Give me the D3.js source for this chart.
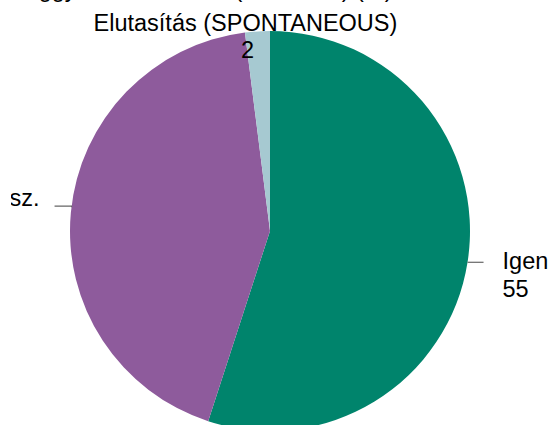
<!DOCTYPE html>
<html>
<head>
<meta charset="utf-8">
<script src="https://cdn.jsdelivr.net/npm/d3@7"></script>
<style>
html,body{margin:0;padding:0;background:#fff;overflow:hidden;}
text{font-family:"Liberation Sans",Arial,sans-serif;}
</style>
</head>
<body>
<svg id="chart" width="552" height="425"></svg>
<script>
const categories = ["Igen", "Nem tudja / nincs válasz.", "Elutasítás (SPONTANEOUS)"];
const values = [55, 43, 2];
const colors = ["#00846c", "#8e5b9c", "#a6c9d1"];
const title = "Meggyőződés szerint (összesen) (%)";

const W = 552, H = 425;
const cx = 270, cy = 231, R = 200;
const fs = 23.5, lh = 27.5;

const svg = d3.select("#chart");
svg.append("defs").append("clipPath").attr("id", "leftclip")
  .append("rect").attr("x", 11).attr("y", 0).attr("width", W).attr("height", H);

// title (mostly above the visible area)
svg.append("text").attr("x", 6).attr("y", -3)
  .attr("font-size", fs).attr("fill", "#000").text(title);

const data = categories.map((c, i) => ({cat: c, value: values[i], color: colors[i]}));
const pie = d3.pie().value(d => d.value).sort(null);
const arcs = pie(data);
const arc = d3.arc().innerRadius(0).outerRadius(R);

const g = svg.append("g").attr("transform", `translate(${cx},${cy})`);
g.selectAll("path").data(arcs).enter().append("path")
  .attr("d", arc).attr("fill", d => d.data.color);

// labels
const lab = svg.append("g");
arcs.forEach((a, i) => {
  const mid = (a.startAngle + a.endAngle) / 2;
  const sx = Math.sin(mid), sy = -Math.cos(mid);
  if (i === 2) {
    const x = cx + R * sx - 12;
    const t = lab.append("text").attr("text-anchor", "middle").attr("font-size", fs).attr("fill", "#000");
    t.append("tspan").attr("x", x).attr("y", 31).text(a.data.cat);
    t.append("tspan").attr("x", x + 2).attr("y", 58).text(a.data.value);
    return;
  }
  let ly = cy + R * sy;
  if (i === 1) ly -= 6;
  const dy = ly - cy;
  const ex = Math.sqrt(R * R - dy * dy);
  const right = sx > 0;
  const px = cx + (right ? ex : -ex);
  const qx = px + (right ? 16 : -17);
  lab.append("path")
    .attr("d", `M${px},${ly + (right ? 0 : 1)}L${px},${ly}L${qx},${ly}`)
    .attr("stroke", "#666").attr("stroke-width", 1.2).attr("fill", "none");
  const t = lab.append("text").attr("font-size", fs).attr("fill", "#000");
  if (right) {
    const tx = qx + 19;
    t.append("tspan").attr("x", tx).attr("y", ly + 7).text(a.data.cat);
    t.append("tspan").attr("x", tx).attr("y", ly + 7 + lh).text(a.data.value);
  } else {
    t.attr("clip-path", "url(#leftclip)");
    const endX = qx - 15;
    const t1 = t.append("tspan").attr("y", ly).text(a.data.cat);
    const w = t1.node().getComputedTextLength();
    const left = endX - w;
    t1.attr("x", left);
    t.append("tspan").attr("x", left).attr("y", ly + lh).text(a.data.value);
  }
});
</script>
</body>
</html>
